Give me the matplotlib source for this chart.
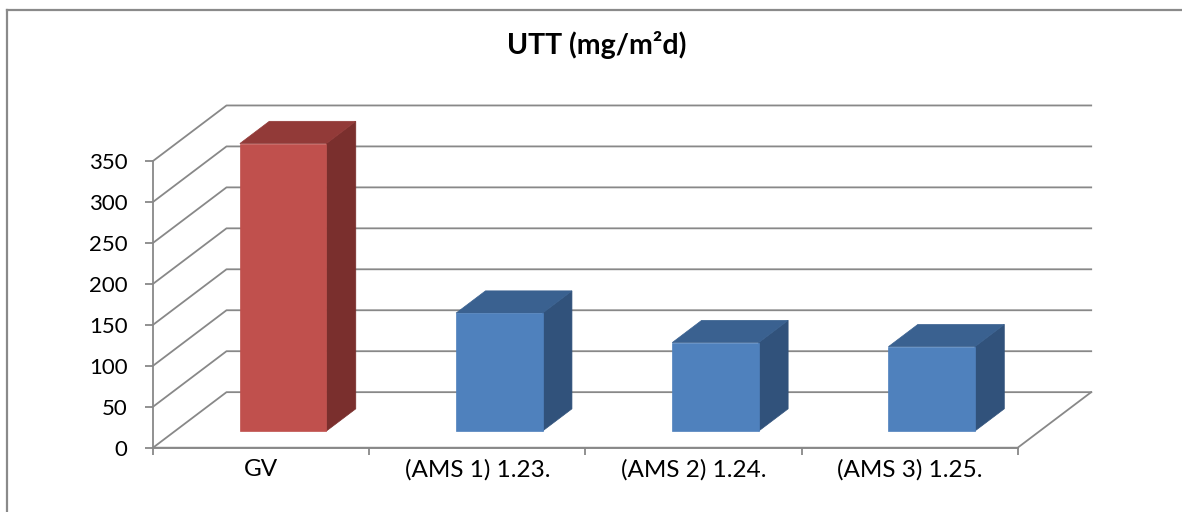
import matplotlib
matplotlib.use("Agg")
import matplotlib.pyplot as plt
from matplotlib.patches import Polygon
from matplotlib.lines import Line2D

plt.rcParams['font.family'] = ['Lato', 'DejaVu Sans']

# ---- data ----
categories = ["GV", "(AMS 1) 1.23.", "(AMS 2) 1.24.", "(AMS 3) 1.25."]
values = [351, 144, 108, 103]
y_ticks = [0, 50, 100, 150, 200, 250, 300, 350]
title = "UTT (mg/m²d)"

# ---- styles ----
front_cols = ["#C0504D", "#4F81BD", "#4F81BD", "#4F81BD"]
top_cols = ["#923A38", "#3A6190", "#3A6190", "#3A6190"]
side_cols = ["#7A2F2D", "#31527B", "#31527B", "#31527B"]
grid_col = "#888888"
grid_lw = 1.3

W, H = 1182, 512
fig = plt.figure(figsize=(W / 100, H / 100), dpi=100)
fig.patch.set_facecolor("white")

# front plane of the 3-D box
ax = fig.add_axes([153 / W, (H - 447.7) / H, (1017.7 - 153) / W, (447.7 - 161) / H])
ax.set_xlim(0, len(categories))
ax.set_ylim(0, 350)
ax.patch.set_alpha(0)

DX = 0.34    # depth offset in category units
DY = 67.8    # depth offset in value units


def P(x, y, d):
    return (x + d * DX, y + d * DY)


n = len(categories)
# back wall / side wall gridlines
for v in y_ticks:
    pts = [P(0, v, 0), P(0, v, 1), P(n, v, 1)]
    ax.add_line(Line2D([p[0] for p in pts], [p[1] for p in pts], color=grid_col,
                       lw=grid_lw, clip_on=False, zorder=1))
# floor outline
pts = [P(0, 0, 0), P(n, 0, 0), P(n, 0, 1)]
ax.add_line(Line2D([p[0] for p in pts], [p[1] for p in pts], color=grid_col,
                   lw=grid_lw, clip_on=False, zorder=1))

# bars
w0, w1 = 0.3, 0.7
d0, d1 = 0.3, 0.7
for i, v in enumerate(values):
    x0, x1 = i + w0, i + w1
    front = [P(x0, 0, d0), P(x1, 0, d0), P(x1, v, d0), P(x0, v, d0)]
    top = [P(x0, v, d0), P(x1, v, d0), P(x1, v, d1), P(x0, v, d1)]
    side = [P(x1, 0, d0), P(x1, 0, d1), P(x1, v, d1), P(x1, v, d0)]
    for poly, c in ((side, side_cols[i]), (top, top_cols[i]), (front, front_cols[i])):
        ax.add_patch(Polygon(poly, closed=True, facecolor=c, edgecolor=c, lw=0.5,
                             clip_on=False, zorder=3))

# axes, ticks, labels
for s in ("top", "right"):
    ax.spines[s].set_visible(False)
for s in ("left", "bottom"):
    ax.spines[s].set_color(grid_col)
    ax.spines[s].set_linewidth(grid_lw)
    ax.spines[s].set_zorder(2)

ax.set_yticks(y_ticks)
ax.set_yticklabels([str(t) for t in y_ticks])
ax.tick_params(axis="y", length=5.8, width=grid_lw, color=grid_col, pad=12.5,
               labelsize=16, labelcolor="black")
ax.set_xticks(range(n + 1))
ax.set_xticklabels([""] * (n + 1))
ax.tick_params(axis="x", which="major", length=5.3, width=grid_lw, color=grid_col)
ax.set_xticks([i + 0.5 for i in range(n)], minor=True)
ax.set_xticklabels(categories, minor=True)
ax.tick_params(axis="x", which="minor", length=0, pad=8, labelsize=17.5, labelcolor="black")

fig.text(596.7 / W, (H - 45) / H, title, ha="center", va="center",
         fontsize=20.5, fontweight="bold", color="black")

# chart-area border (partially visible)
fig.add_artist(Line2D([7 / W, 7 / W], [0, (H - 10) / H], color="#8a8a8a", lw=1.6,
                      transform=fig.transFigure))
fig.add_artist(Line2D([7 / W, 1], [(H - 10) / H, (H - 10) / H], color="#8a8a8a", lw=1.6,
                      transform=fig.transFigure))

fig.savefig("out.png", dpi=100, facecolor="white")
